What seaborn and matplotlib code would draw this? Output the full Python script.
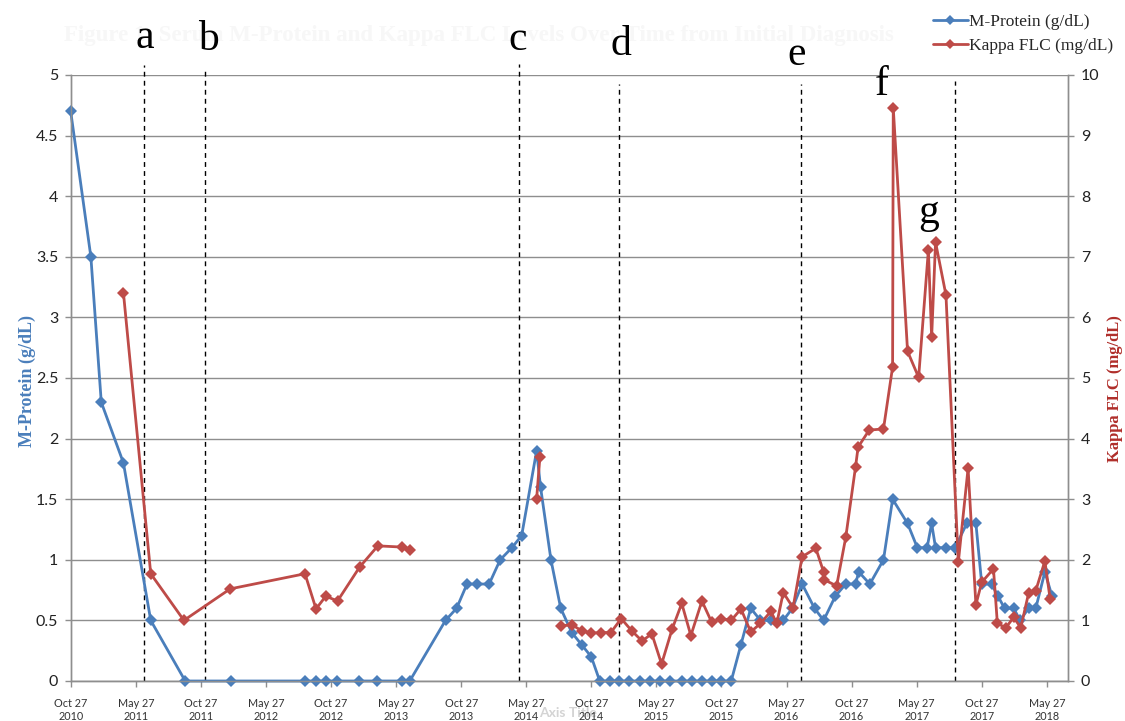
import numpy as np
import pandas as pd
import matplotlib
matplotlib.use("Agg")
import matplotlib.pyplot as plt
import matplotlib.lines as mlines
import seaborn as sns

# ---------------- data ----------------
tick_labels = ["Oct 27\n2010", "May 27\n2011", "Oct 27\n2011", "May 27\n2012",
               "Oct 27\n2012", "May 27\n2013", "Oct 27\n2013", "May 27\n2014",
               "Oct 27\n2014", "May 27\n2015", "Oct 27\n2015", "May 27\n2016",
               "Oct 27\n2016", "May 27\n2017", "Oct 27\n2017", "May 27\n2018"]

# time position measured in axis-label steps (0 = Oct 27 2010, 1 = May 27 2011, ...)
mprot_t = [0.00, 0.31, 0.47, 0.81, 1.23, 1.76, 2.46, 3.60, 3.77, 3.92, 4.09, 4.43,
           4.71, 5.09, 5.21, 5.76, 5.93, 6.09, 6.24, 6.43, 6.60, 6.78, 6.93, 7.16,
           7.22, 7.38, 7.53, 7.70, 7.85, 8.00, 8.13, 8.29, 8.43, 8.58, 8.75, 8.90,
           9.06, 9.21, 9.39, 9.54, 9.70, 9.85, 10.00, 10.15, 10.30, 10.45, 10.60,
           10.76, 10.95, 11.09, 11.24, 11.43, 11.57, 11.75, 11.91, 12.06, 12.11,
           12.28, 12.49, 12.63, 12.86, 13.01, 13.16, 13.23, 13.29, 13.45, 13.59,
           13.77, 13.91, 14.00, 14.15, 14.25, 14.35, 14.49, 14.59, 14.72, 14.83,
           14.97, 15.08]
mprot_v = [4.7, 3.5, 2.3, 1.8, 0.5, 0.0, 0.0, 0.0, 0.0, 0.0, 0.0, 0.0,
           0.0, 0.0, 0.0, 0.5, 0.6, 0.8, 0.8, 0.8, 1.0, 1.1, 1.2, 1.9,
           1.6, 1.0, 0.6, 0.4, 0.3, 0.2, 0.0, 0.0, 0.0, 0.0, 0.0, 0.0,
           0.0, 0.0, 0.0, 0.0, 0.0, 0.0, 0.0, 0.0, 0.3, 0.6, 0.5,
           0.5, 0.5, 0.6, 0.8, 0.6, 0.5, 0.7, 0.8, 0.8, 0.9,
           0.8, 1.0, 1.5, 1.3, 1.1, 1.1, 1.3, 1.1, 1.1, 1.1,
           1.3, 1.3, 0.8, 0.8, 0.7, 0.6, 0.6, 0.5, 0.6, 0.6,
           0.9, 0.7]

kappa_t = [0.81, 1.23, 1.74, 2.45, 3.60, 3.77, 3.92, 4.10, 4.44, 4.72, 5.09, 5.21,
           7.16, 7.21,
           7.54, 7.70, 7.85, 8.00, 8.15, 8.30, 8.46, 8.62, 8.78, 8.93, 9.08, 9.24,
           9.39, 9.53, 9.70, 9.85, 10.00, 10.15, 10.30, 10.45, 10.60, 10.76, 10.85,
           10.95, 11.10, 11.24, 11.45, 11.57, 11.58, 11.77, 11.91, 12.06, 12.10,
           12.27, 12.49, 12.63, 12.64, 12.86, 13.03, 13.18, 13.23, 13.29, 13.45,
           13.64, 13.79, 13.91, 14.00, 14.18, 14.24, 14.37, 14.49, 14.60, 14.72,
           14.83, 14.97, 15.05]
kappa_v = [6.41, 1.77, 1.00, 1.52, 1.77, 1.19, 1.40, 1.32, 1.88, 2.23, 2.21, 2.16,
           3.01, 3.69,
           0.91, 0.93, 0.83, 0.79, 0.80, 0.80, 1.03, 0.83, 0.66, 0.78, 0.28, 0.85,
           1.28, 0.75, 1.32, 0.97, 1.03, 1.00, 1.19, 0.81, 0.95, 1.15, 0.95,
           1.46, 1.21, 2.05, 2.19, 1.80, 1.67, 1.57, 2.37, 3.53, 3.86,
           4.14, 4.16, 5.18, 9.46, 5.44, 5.01, 7.11, 5.67, 7.24, 6.37,
           1.96, 3.51, 1.26, 1.63, 1.85, 0.95, 0.88, 1.05, 0.88, 1.45,
           1.49, 1.98, 1.36]
kappa_seg = [0] * 12 + [1] * 2 + [2] * 56

event_line_t = [1.13, 2.06, 6.89, 8.42, 11.23, 13.59]
event_line_top = [1.016, 1.012, 1.018, 0.985, 0.985, 0.99]
event_letters = ["a", "b", "c", "d", "e", "f", "g"]
event_letter_t = [1.14, 2.11, 6.87, 8.45, 11.16, 12.47, 13.18]
event_letter_y = [1.062, 1.058, 1.058, 1.050, 1.034, 0.984, 0.772]

title = "Figure 1: Serum M-Protein and Kappa FLC Levels Over Time from Initial Diagnosis"
series_names = ["M-Protein (g/dL)", "Kappa FLC (mg/dL)"]

mprot_df = pd.DataFrame({"t": mprot_t, "v": mprot_v, "seg": 0})
kappa_df = pd.DataFrame({"t": kappa_t, "v": kappa_v, "seg": kappa_seg})

# ---------------- style ----------------
sns.set_theme(style="white")
plt.rcParams["font.family"] = ["Lato", "DejaVu Sans"]

BLUE = "#4A7EBB"
RED = "#BE4B48"
GRID = "#8e8e8e"
SERIF = ["Liberation Serif", "DejaVu Serif"]

fig = plt.figure(figsize=(11.25, 7.21), dpi=100)
ax = fig.add_axes([0.06284, 0.05548, 0.88676, 0.8405])
ax2 = ax.twinx()

sns.lineplot(data=mprot_df, x="t", y="v", units="seg", estimator=None, sort=False,
             ax=ax, color=BLUE, lw=2.0, marker="D", markersize=5.8,
             markeredgewidth=0, legend=False, clip_on=False, zorder=3)
sns.lineplot(data=kappa_df, x="t", y="v", units="seg", estimator=None, sort=False,
             ax=ax2, color=RED, lw=2.0, marker="D", markersize=5.8,
             markeredgewidth=0, legend=False, clip_on=False, zorder=3)

ax.set_xlim(0, 15.33)
ax.set_ylim(0, 5)
ax2.set_ylim(0, 10)
ax.set_xticks(range(len(tick_labels)))
ax.set_xticklabels(tick_labels, fontsize=7.8, color="#333333", linespacing=1.15)
ax.set_yticks(np.arange(0, 5.01, 0.5))
ax.set_yticklabels(["0", "0.5", "1", "1.5", "2", "2.5", "3", "3.5", "4", "4.5", "5"])
ax2.set_yticks(range(0, 11))

ax.yaxis.grid(True, color=GRID, lw=1.0)
ax.set_axisbelow(True)

for a in (ax, ax2):
    a.spines["top"].set_visible(False)
    for s in ("left", "right", "bottom"):
        a.spines[s].set_color(GRID)
        a.spines[s].set_linewidth(1.0)
ax.tick_params(axis="x", direction="out", length=4, width=1, color=GRID, pad=8.5,
               bottom=True)
ax.tick_params(axis="y", direction="out", length=4, width=1, color=GRID,
               labelsize=11.5, labelcolor="#222222", left=True, pad=5)
ax2.tick_params(axis="y", direction="out", length=4, width=1, color=GRID,
                labelsize=11.5, labelcolor="#222222", right=True, pad=5)

ax.set_xlabel("")
ax.set_ylabel("")
ax2.set_ylabel("")

for t, top in zip(event_line_t, event_line_top):
    ax.axvline(t, ymin=0, ymax=top, color="black", lw=1.0, ls=(0, (3.5, 3)),
               clip_on=False, zorder=2)

for lab, t, y in zip(event_letters, event_letter_t, event_letter_y):
    ax.text(t, y, lab, transform=ax.get_xaxis_transform(), ha="center", va="center",
            fontsize=30, family=SERIF, color="black", zorder=5)

fig.text(0.024, 0.472, "M-Protein (g/dL)", rotation=90, ha="center", va="center",
         fontsize=13, fontweight="bold", family=SERIF, color=BLUE)
fig.text(0.991, 0.4605, "Kappa FLC (mg/dL)", rotation=90, ha="center", va="center",
         fontsize=12, fontweight="bold", family=SERIF, color="#B02E2A")

fig.text(0.426, 0.951, title, ha="center", va="center", fontsize=16.5,
         fontweight="bold", family=SERIF, color="#F7F7F7", zorder=-1)
fig.text(0.505, 0.011, "Axis Title", ha="center", va="center", fontsize=10,
         fontweight="bold", color="#D4D4D4", zorder=-1)

handles = [mlines.Line2D([], [], color=BLUE, lw=2.0, marker="D", markersize=5,
                         markeredgewidth=0),
           mlines.Line2D([], [], color=RED, lw=2.0, marker="D", markersize=5,
                         markeredgewidth=0)]
fig.legend(handles, series_names, loc="upper right", bbox_to_anchor=(0.999, 0.995),
           frameon=False, prop={"family": SERIF, "size": 12.5}, handlelength=2.0,
           handletextpad=0.1, labelspacing=0.45, borderaxespad=0.2)

fig.savefig("out.png", dpi=100)
